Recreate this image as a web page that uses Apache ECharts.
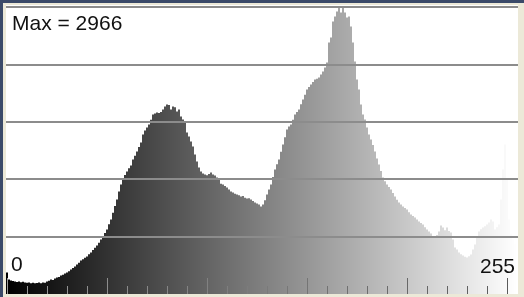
<!DOCTYPE html>
<html lang="en">
<head>
<meta charset="utf-8" />
<script src="https://cdn.jsdelivr.net/npm/echarts@6/dist/echarts.min.js"></script>
<style>
	html, body { margin: 0; padding: 0; background: #ffffff; }
	#main { width: 524px; height: 297px; }
</style>
</head>
<body>
<div id="main"></div>
<script type="text/javascript">
	// gray levels 0..255
	var levels = [];
	for (var i = 0; i < 256; i++) levels.push(String(i));

	// pixel counts per level
	var counts = [
		222, 150, 140, 135, 129, 125, 129, 122, 126, 118,
		115, 119, 112, 116, 110, 114, 118, 112, 120, 116,
		129, 138, 150, 145, 160, 170, 176, 190, 198, 212,
		222, 236, 253, 268, 285, 305, 322, 346, 360, 375,
		388, 410, 429, 455, 478, 501, 530, 563, 598, 630,
		667, 720, 770, 840, 910, 977, 1060, 1132, 1180, 1230,
		1266, 1300, 1328, 1390, 1430, 1473, 1520, 1566, 1648, 1690,
		1721, 1752, 1800, 1855, 1866, 1876, 1870, 1880, 1907, 1938,
		1958, 1952, 1907, 1938, 1930, 1886, 1907, 1834, 1803, 1772,
		1669, 1628, 1576, 1524, 1442, 1369, 1307, 1266, 1245, 1235,
		1228, 1240, 1256, 1235, 1225, 1204, 1183, 1140, 1132, 1115,
		1101, 1080, 1059, 1050, 1035, 1028, 1020, 1008, 1012, 995,
		987, 990, 977, 960, 946, 935, 925, 904, 925, 970,
		1028, 1080, 1132, 1210, 1287, 1340, 1390, 1470, 1545, 1620,
		1700, 1730, 1752, 1800, 1855, 1880, 1907, 1960, 2010, 2060,
		2113, 2140, 2165, 2190, 2217, 2225, 2237, 2268, 2299, 2341,
		2392, 2599, 2651, 2816, 2868, 2919, 2966, 2909, 2955, 2909,
		2858, 2868, 2764, 2599, 2403, 2217, 2113, 1958, 1855, 1803,
		1721, 1648, 1597, 1540, 1473, 1400, 1338, 1270, 1204, 1165,
		1132, 1105, 1080, 1045, 1008, 975, 946, 925, 904, 890,
		873, 845, 821, 805, 790, 770, 749, 735, 718, 690,
		667, 645, 625, 600, 584, 610, 646, 708, 687, 660,
		687, 650, 636, 563, 480, 460, 429, 410, 398, 385,
		377, 390, 408, 460, 512, 584, 646, 670, 687, 700,
		718, 740, 770, 750, 667, 690, 718, 977, 1287, 1545,
		1183, 770, 615, 563, 512, 460
	];

	var maxCount = 2966;
	var gridFractions = [0.2, 0.4, 0.6, 0.8, 1];
	var endLabels = ['0', '255'];

	var chart = echarts.init(document.getElementById('main'), null, { renderer: 'canvas' });

	// ticks look inverted against the gray ramp
	var tickColor = {
		type: 'linear', x: 6, y: 0, x2: 518, y2: 0, global: true,
		colorStops: [{ offset: 0, color: '#9a9a9a' }, { offset: 1, color: '#5a5a5a' }]
	};

	function tickAxis(len, test) {
		return {
			type: 'category',
			data: levels,
			position: 'bottom',
			z: 20,
			axisLine: { show: false },
			axisLabel: { show: false },
			splitLine: { show: false },
			axisTick: {
				show: true, inside: true, length: len, alignWithLabel: true,
				interval: test,
				lineStyle: { color: tickColor, width: 1 }
			}
		};
	}

	var option = {
		animation: false,
		backgroundColor: '#ffffff',
		grid: { left: 6, right: 6, top: 7, bottom: 3 },
		xAxis: [
			{
				type: 'category', data: levels, position: 'bottom',
				axisLine: { show: false }, axisTick: { show: false },
				axisLabel: { show: false }, splitLine: { show: false }
			},
			tickAxis(8, function (i) { return i % 10 === 0 && i % 50 !== 0; }),
			tickAxis(16, function (i) { return i % 50 === 0; })
		],
		yAxis: { type: 'value', min: 0, max: maxCount, show: false },
		series: [{
			type: 'bar',
			data: counts,
			barCategoryGap: '0%',
			itemStyle: {
				color: function (p) {
					var g = p.dataIndex;
					return 'rgb(' + g + ',' + g + ',' + g + ')';
				}
			},
			markLine: {
				silent: true,
				symbol: ['none', 'none'],
				label: { show: false },
				lineStyle: { color: '#8c8c8c', width: 2, type: 'solid' },
				data: gridFractions.map(function (f) { return { yAxis: maxCount * f }; })
			}
		}],
		graphic: [
			// window frame
			{ type: 'rect', z: 100, shape: { x: 0, y: 0, width: 524, height: 5 }, style: { fill: '#ece9d8' } },
			{ type: 'rect', z: 100, shape: { x: 0, y: 0, width: 6, height: 297 }, style: { fill: '#ece9d8' } },
			{ type: 'rect', z: 100, shape: { x: 518, y: 0, width: 6, height: 297 }, style: { fill: '#ece9d8' } },
			{ type: 'rect', z: 100, shape: { x: 0, y: 294, width: 524, height: 3 }, style: { fill: '#ece9d8' } },
			{ type: 'rect', z: 101, shape: { x: 0, y: 0, width: 524, height: 3 }, style: { fill: '#3b4a69' } },
			{ type: 'rect', z: 101, shape: { x: 0, y: 0, width: 3, height: 297 }, style: { fill: '#3b4a69' } },
			// labels
			{
				type: 'text', z: 102, left: 12, top: 14,
				style: { text: 'Max = ' + maxCount, fill: '#111111', font: '21px "Liberation Sans", Arial, sans-serif' }
			},
			{
				type: 'text', z: 102, left: 11, top: 255,
				style: { text: endLabels[0], fill: '#111111', font: '21px "Liberation Sans", Arial, sans-serif' }
			},
			{
				type: 'text', z: 102, right: 9, top: 257,
				style: { text: endLabels[1], fill: '#111111', font: '21px "Liberation Sans", Arial, sans-serif' }
			}
		]
	};

	chart.setOption(option);
</script>
</body>
</html>
